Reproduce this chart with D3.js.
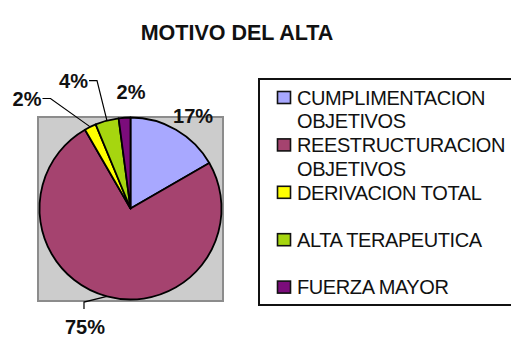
<!DOCTYPE html>
<html>
<head>
<meta charset="utf-8">
<script src="https://cdn.jsdelivr.net/npm/d3@7/dist/d3.min.js"></script>
<style>
  html, body { margin: 0; padding: 0; background: #ffffff; }
  svg { display: block; font-family: "Liberation Sans", Arial, sans-serif; }
</style>
</head>
<body>
<svg id="chart" width="511" height="338"></svg>
<script>
// Discharge reasons (patient counts)
const categories = [
  "CUMPLIMENTACION OBJETIVOS",
  "REESTRUCTURACION OBJETIVOS",
  "DERIVACION TOTAL",
  "ALTA TERAPEUTICA",
  "FUERZA MAYOR"
];
const counts = [8, 36, 1, 2, 1];
const sliceColors = ["#a8a8ff", "#a5436f", "#ffff00", "#a6d60f", "#7b0c7b"];
const chartTitle = "MOTIVO DEL ALTA";

// Where each percentage label sits around the pie: angular nudge (degrees)
// from the slice's mid-angle, distance from centre, and leader-line style.
const labelLayout = [
  { nudge: 4,   dist: 112, leader: null },
  { nudge: 6,   dist: 127, leader: "top" },
  { nudge: -17, dist: 151, leader: "right" },
  { nudge: -9,  dist: 140, leader: "right" },
  { nudge: 4,   dist: 117, leader: null }
];

const svg = d3.select("#chart");

// Title
svg.append("text")
  .attr("x", 237).attr("y", 40)
  .attr("text-anchor", "middle")
  .attr("font-size", 21.5).attr("font-weight", "bold")
  .attr("fill", "#111")
  .text(chartTitle);

// Plot area
const plot = { x: 38, y: 117, w: 185, h: 184 };
svg.append("rect")
  .attr("x", plot.x).attr("y", plot.y)
  .attr("width", plot.w).attr("height", plot.h)
  .attr("fill", "#cccccc").attr("stroke", "#8c8c8c").attr("stroke-width", 2);

const cx = plot.x + plot.w / 2, cy = plot.y + plot.h / 2 - 0.5;
const R = 91;
const total = d3.sum(counts);
const pct = d3.format(".0%");

const pie = d3.pie().sort(null).value(d => d)(counts);
const arc = d3.arc().innerRadius(0).outerRadius(R);

const g = svg.append("g").attr("transform", `translate(${cx},${cy})`);
g.selectAll("path.slice").data(pie).join("path")
  .attr("class", "slice")
  .attr("d", arc)
  .attr("fill", (d, i) => sliceColors[i])
  .attr("stroke", "#000").attr("stroke-width", 1.8)
  .attr("stroke-linejoin", "round");

// Percentage labels with leader lines
const polar = (ang, r) => [r * Math.sin(ang), -r * Math.cos(ang)];
pie.forEach((d, i) => {
  const L = labelLayout[i];
  const mid = (d.startAngle + d.endAngle) / 2;
  const [lx, ly] = polar(mid + L.nudge * Math.PI / 180, L.dist);
  const t = g.append("text")
    .attr("x", lx).attr("y", ly).attr("dy", "0.35em")
    .attr("text-anchor", "middle")
    .attr("font-size", 20).attr("font-weight", "bold")
    .attr("fill", "#111")
    .text(pct(d.value / total));
  const w = t.node().getComputedTextLength();
  const start = polar(mid, R);
  let pts = null;
  if (L.leader === "right") {
    const rx = lx + w / 2;
    pts = [start, [rx + 9, ly], [rx + 1, ly]];
  } else if (L.leader === "top") {
    pts = [start, [lx - 1, ly - 25], [lx - 1, ly - 18]];
  }
  if (pts) {
    g.append("path")
      .attr("d", d3.line()(pts))
      .attr("fill", "none").attr("stroke", "#000").attr("stroke-width", 1.2);
  }
});

// Legend
const leg = { x: 259, y: 79, w: 260, h: 226 };
svg.append("rect")
  .attr("x", leg.x).attr("y", leg.y)
  .attr("width", leg.w).attr("height", leg.h)
  .attr("fill", "#fff").attr("stroke", "#111").attr("stroke-width", 2);

const textX = 297, maxW = 212, rowStep = 47.4, firstRow = 97.5, lineGap = 23.5;
categories.forEach((name, i) => {
  const yc = firstRow + i * rowStep;
  svg.append("rect")
    .attr("x", 277.5).attr("y", yc - 6)
    .attr("width", 13).attr("height", 12)
    .attr("fill", sliceColors[i]).attr("stroke", "#111").attr("stroke-width", 1.6);
  // wrap words onto lines that fit inside the legend
  const words = name.split(" ");
  const lines = [];
  let cur = "";
  const probe = svg.append("text").attr("font-size", 20).attr("letter-spacing", -0.4);
  words.forEach(wd => {
    const test = cur ? cur + " " + wd : wd;
    probe.text(test);
    if (cur && probe.node().getComputedTextLength() > maxW) {
      lines.push(cur); cur = wd;
    } else cur = test;
  });
  lines.push(cur);
  probe.remove();
  lines.forEach((ln, k) => {
    svg.append("text")
      .attr("x", textX).attr("y", yc + k * lineGap).attr("dy", "0.36em")
      .attr("font-size", 20).attr("letter-spacing", -0.4)
      .attr("fill", "#111")
      .text(ln);
  });
});
</script>
</body>
</html>
